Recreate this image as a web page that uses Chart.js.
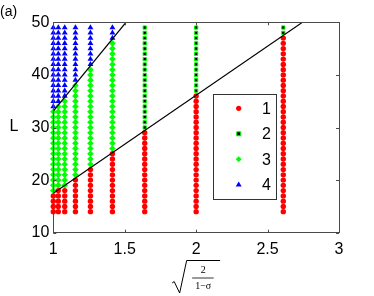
<!DOCTYPE html>
<html>
<head>
<meta charset="utf-8">
<script src="https://cdn.jsdelivr.net/npm/chart.js@4.4.1/dist/chart.umd.min.js"></script>
<style>
html,body{margin:0;padding:0;background:#fff;}
#wrap{position:relative;width:374px;height:296px;}
canvas{display:block;}
</style>
</head>
<body>
<div id="wrap"><canvas id="c" width="374" height="296"></canvas></div>
<script>
// ---- data ----
const columnX = [1, 1.035, 1.08, 1.155, 1.26, 1.414, 1.64, 2, 2.61];   // sqrt(2/(1-sigma))
// state 1 (red circles): L ranges per column
const state1Ranges = [[14,17],[14,18],[14,18],[14,20],[14,22],[14,25],[14,29],[14,36],[14,47]];
// state 2 (black squares): L ranges per column (null = none)
const state2Ranges = [null,null,null,null,null,null,[30,49],[37,49],[48,49]];
// state 3 (green diamonds)
const state3Ranges = [[18,33],[19,34],[19,35],[21,38],[23,41],[26,46],null,null,null];
// state 4 (blue triangles)
const state4Ranges = [[34,49],[35,49],[36,49],[39,49],[42,49],[47,49],null,null,null];
// boundary lines
const lowerLineX = [1, 2.744];
const lowerLineL = [17.5, 50];
const upperLineX = [1, 1.509];
const upperLineL = [33.1, 50];
// axis ticks
const xTicks = [1, 1.5, 2, 2.5, 3];
const yTicks = [10, 20, 30, 40, 50];
const legendLabels = ['1', '2', '3', '4'];

function expand(ranges) {
  const pts = [];
  ranges.forEach((r, i) => {
    if (!r) return;
    for (let L = r[0]; L <= r[1]; L++) pts.push({x: columnX[i], y: L});
  });
  return pts;
}
function linePts(xs, ys) { return xs.map((x, i) => ({x: x, y: ys[i]})); }

const FONT = '"Liberation Sans", Arial, Helvetica, sans-serif';
const AX = '#4a4a4a';

const decor = {
  id: 'decor',
  afterDraw(chart) {
    const ctx = chart.ctx, a = chart.chartArea;
    const xs = chart.scales.x, ys = chart.scales.y;
    ctx.save();
    // box
    ctx.strokeStyle = AX; ctx.lineWidth = 1;
    ctx.strokeRect(Math.round(a.left) + 0.5, Math.round(a.top) + 0.5,
                   Math.round(a.right - a.left), Math.round(a.bottom - a.top));
    // inward ticks
    const tl = 3;
    ctx.beginPath();
    xTicks.forEach(v => {
      const p = Math.round(xs.getPixelForValue(v)) + 0.5;
      ctx.moveTo(p, a.bottom); ctx.lineTo(p, a.bottom - tl);
      ctx.moveTo(p, a.top); ctx.lineTo(p, a.top + tl);
    });
    yTicks.forEach(v => {
      const p = Math.round(ys.getPixelForValue(v)) + 0.5;
      ctx.moveTo(a.left, p); ctx.lineTo(a.left + tl, p);
      ctx.moveTo(a.right, p); ctx.lineTo(a.right - tl, p);
    });
    ctx.stroke();

    // panel label
    ctx.fillStyle = '#000';
    ctx.font = '14px ' + FONT;
    ctx.textAlign = 'left'; ctx.textBaseline = 'middle';
    ctx.fillText('(a)', 0, 12);

    // y title
    ctx.font = '16px ' + FONT;
    ctx.textAlign = 'center'; ctx.textBaseline = 'middle';
    ctx.fillText('L', 14, (a.top + a.bottom) / 2 - 1);

    // x title: sqrt(2/(1-sigma))
    const cx = xs.getPixelForValue(2);
    ctx.strokeStyle = '#000'; ctx.lineWidth = 1;
    ctx.beginPath();
    ctx.moveTo(cx - 24, 283); ctx.lineTo(cx - 22, 281.5);
    ctx.lineTo(cx - 16.5, 293);
    ctx.lineTo(cx - 9.5, 260.5);
    ctx.lineTo(cx + 24, 260.5);
    ctx.stroke();
    ctx.lineWidth = 0.8;
    ctx.beginPath();
    ctx.moveTo(cx - 4, 278); ctx.lineTo(cx + 17.5, 278);
    ctx.stroke();
    ctx.textAlign = 'center'; ctx.textBaseline = 'middle';
    ctx.font = '10px "Liberation Serif", "DejaVu Serif", serif';
    ctx.fillText('2', cx + 7, 270.5);
    ctx.fillText('1\u2212\u03c3', cx + 7, 286.5);

    // legend
    const lx = 213.5, ly = 94.5, lw = 63, lh = 105;
    ctx.fillStyle = '#fff';
    ctx.fillRect(lx, ly, lw, lh);
    ctx.strokeStyle = '#333'; ctx.lineWidth = 1;
    ctx.strokeRect(lx, ly, lw, lh);
    const mx = 238.7, tx = 266.5;
    const rowsY = [108.3, 133.8, 159.2, 184.4];
    const dsIdx = [2, 3, 4, 5];
    ctx.font = '16px ' + FONT;
    ctx.textAlign = 'center'; ctx.textBaseline = 'middle';
    rowsY.forEach((yy, i) => {
      const ds = chart.data.datasets[dsIdx[i]];
      ctx.save();
      ctx.fillStyle = ds.backgroundColor;
      ctx.strokeStyle = ds.borderColor;
      ctx.lineWidth = ds.borderWidth || 0;
      ctx.beginPath();
      const r = ds.legendR;
      if (ds.pointStyle === 'circle') {
        ctx.arc(mx, yy, r, 0, Math.PI * 2);
      } else if (ds.pointStyle === 'rect') {
        ctx.rect(mx - r, yy - r, 2 * r, 2 * r);
      } else if (ds.pointStyle === 'rectRot') {
        ctx.moveTo(mx, yy - r); ctx.lineTo(mx + r, yy); ctx.lineTo(mx, yy + r); ctx.lineTo(mx - r, yy); ctx.closePath();
      } else {
        ctx.moveTo(mx, yy - r); ctx.lineTo(mx + r, yy + r * 0.7); ctx.lineTo(mx - r, yy + r * 0.7); ctx.closePath();
      }
      ctx.fill();
      if (ds.borderWidth) ctx.stroke();
      ctx.restore();
      ctx.fillStyle = '#000';
      ctx.fillText(legendLabels[i], tx, yy + 1);
    });
    ctx.restore();
  }
};

new Chart(document.getElementById('c'), {
  type: 'scatter',
  data: {
    datasets: [
      {type: 'line', label: 'lower', data: linePts(lowerLineX, lowerLineL), borderColor: '#000', borderWidth: 1.2,
       pointRadius: 0, fill: false, order: 0, tension: 0},
      {type: 'line', label: 'upper', data: linePts(upperLineX, upperLineL), borderColor: '#000', borderWidth: 1.2,
       pointRadius: 0, fill: false, order: 0, tension: 0},
      {label: '1', data: expand(state1Ranges), pointStyle: 'circle', pointRadius: 2.7,
       backgroundColor: '#ff0000', borderColor: '#ff0000', borderWidth: 0, order: 1, clip: false, legendR: 2.6},
      {label: '2', data: expand(state2Ranges), pointStyle: 'rect', pointRadius: 2.3,
       backgroundColor: '#000000', borderColor: '#00ff00', borderWidth: 1, order: 1, clip: false, legendR: 2},
      {label: '3', data: expand(state3Ranges), pointStyle: 'rectRot', pointRadius: 3.3,
       backgroundColor: '#00ff00', borderColor: '#00ff00', borderWidth: 0, order: 1, clip: false, legendR: 3},
      {label: '4', data: expand(state4Ranges), pointStyle: 'triangle', pointRadius: 3.4,
       backgroundColor: '#0000ff', borderColor: '#0000ff', borderWidth: 0, order: 1, clip: false, legendR: 3}
    ]
  },
  options: {
    responsive: false,
    animation: false,
    devicePixelRatio: 1,
    layout: {padding: {left: 0, right: 35, top: 22.3, bottom: 0}},
    plugins: {legend: {display: false}, tooltip: {enabled: false}},
    scales: {
      x: {
        type: 'linear', min: 1, max: 3,
        afterBuildTicks: s => { s.ticks = xTicks.map(v => ({value: v})); },
        afterFit: s => { s.height = 63.3; },
        grid: {display: false, drawTicks: false},
        border: {display: false},
        ticks: {font: {size: 16, family: FONT}, color: '#000', padding: 7,
                maxRotation: 0, callback: v => String(v)}
      },
      y: {
        type: 'linear', min: 10, max: 50,
        afterBuildTicks: s => { s.ticks = yTicks.map(v => ({value: v})); },
        afterFit: s => { s.width = 53.3; },
        grid: {display: false, drawTicks: false},
        border: {display: false},
        ticks: {font: {size: 16, family: FONT}, color: '#000', padding: 4, callback: v => String(v)}
      }
    }
  },
  plugins: [decor]
});
</script>
</body>
</html>
